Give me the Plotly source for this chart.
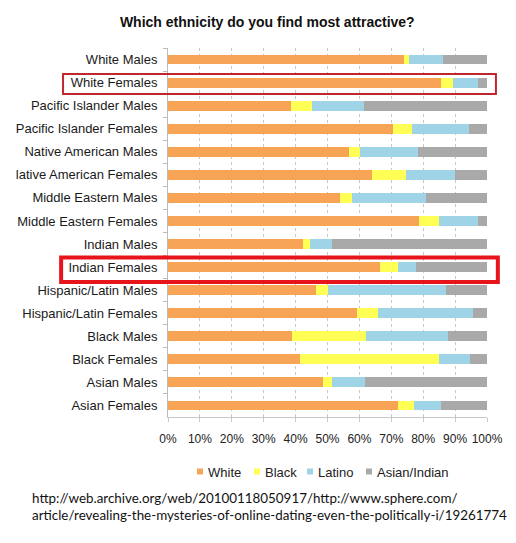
import plotly.graph_objects as go

categories = ["White Males", "White Females", "Pacific Islander Males", "Pacific Islander Females",
              "Native American Males", "lative American Females", "Middle Eastern Males",
              "Middle Eastern Females", "Indian Males", "Indian Females", "Hispanic/Latin Males",
              "Hispanic/Latin Females", "Black Males", "Black Females", "Asian Males", "Asian Females"]

white = [74.1, 85.5, 38.6, 70.6, 56.7, 64.1, 53.8, 78.8, 42.2, 66.6, 46.3, 59.2, 38.8, 41.4, 48.6, 72.2]
black = [1.5, 3.9, 6.4, 6.0, 3.4, 10.4, 3.9, 6.0, 2.3, 5.6, 3.9, 6.5, 23.3, 43.6, 2.8, 4.8]
latino = [10.5, 7.9, 16.4, 17.6, 18.2, 15.5, 23.2, 12.5, 6.8, 5.6, 36.9, 30.0, 25.8, 9.8, 10.2, 8.7]
asian = [13.9, 2.7, 38.6, 5.8, 21.7, 10.0, 19.1, 2.7, 48.7, 22.2, 12.9, 4.3, 12.1, 5.2, 38.4, 14.3]

series_names = ["White", "Black", "Latino", "Asian/Indian"]
series_colors = ["#F7A456", "#FFFF55", "#9ED4E6", "#A9A9A9"]
series_values = [white, black, latino, asian]

# plot area in pixels (for converting overlay positions)
PL, PR, PT, PB = 168, 487, 48, 417
def px_x(px):
    return (px - PL) / (PR - PL)
def px_y(py):
    return (PB - py) / (PB - PT)

fig = go.Figure()
for name, vals, col in zip(series_names, series_values, series_colors):
    fig.add_trace(go.Bar(
        y=categories, x=[v / 100 for v in vals], name=name, orientation="h",
        marker=dict(color=col, line=dict(width=0)), width=0.43, showlegend=False,
    ))

shapes = [
    dict(type="rect", xref="paper", yref="y", x0=-0.329, x1=1.028, y0=0.63, y1=1.49,
         line=dict(color="#C0272D", width=2)),
    dict(type="rect", xref="paper", yref="y", x0=-0.335, x1=1.034, y0=8.58, y1=9.65,
         line=dict(color="#E8141C", width=4)),
]
annotations = []

# custom legend (small square swatches + labels)
legend_sw_x = [197, 254, 307, 366]
legend_y = 471.5
for name, col, sx in zip(series_names, series_colors, legend_sw_x):
    shapes.append(dict(type="rect", xref="paper", yref="paper",
                       x0=px_x(sx), x1=px_x(sx + 6), y0=px_y(legend_y + 3), y1=px_y(legend_y - 3),
                       fillcolor=col, line=dict(width=0)))
    annotations.append(dict(text=name, xref="paper", yref="paper", x=px_x(sx + 9), xanchor="left",
                            y=px_y(legend_y + 1), yanchor="middle", showarrow=False,
                            font=dict(size=13, color="#222222")))

annotations.append(dict(
    text="http://web.archive.org/web/20100118050917/http://www.sphere.com/<br>"
         "article/revealing-the-mysteries-of-online-dating-even-the-politically-i/19261774",
    xref="paper", yref="paper", x=px_x(30), xanchor="left",
    y=px_y(506), yanchor="middle", align="left", showarrow=False,
    font=dict(family="Lato, 'Open Sans', sans-serif", size=13.4, color="#111111")))

fig.update_layout(
    barmode="stack",
    width=516, height=543,
    margin=dict(l=PL, r=516 - PR, t=PT, b=543 - PB),
    paper_bgcolor="white", plot_bgcolor="white",
    font=dict(family="Arial, 'Liberation Sans', sans-serif", color="#1a1a1a"),
    title=dict(text="<b>Which ethnicity do you find most attractive?</b>",
               x=0.518, xanchor="center", y=0.96, yanchor="middle",
               font=dict(size=14, color="#111111")),
    xaxis=dict(range=[0, 1], tickformat=".0%", dtick=0.1, tick0=0,
               showgrid=True, gridcolor="#C8C8C8", griddash="dot", gridwidth=1,
               showline=True, linecolor="#C8C8C8", linewidth=1,
               ticks="outside", ticklen=4, tickcolor="#C8C8C8", ticklabelstandoff=7,
               tickfont=dict(size=12, color="#222222"), zeroline=False),
    yaxis=dict(autorange="reversed", showline=True, linecolor="#BBBBBB", linewidth=1,
               ticks="outside", ticklen=4, tickcolor="#BBBBBB", tickson="boundaries",
               tickfont=dict(size=13, color="#1a1a1a"), ticklabelstandoff=7),
    showlegend=False,
    shapes=shapes,
    annotations=annotations,
)

fig.write_html("out.html")
